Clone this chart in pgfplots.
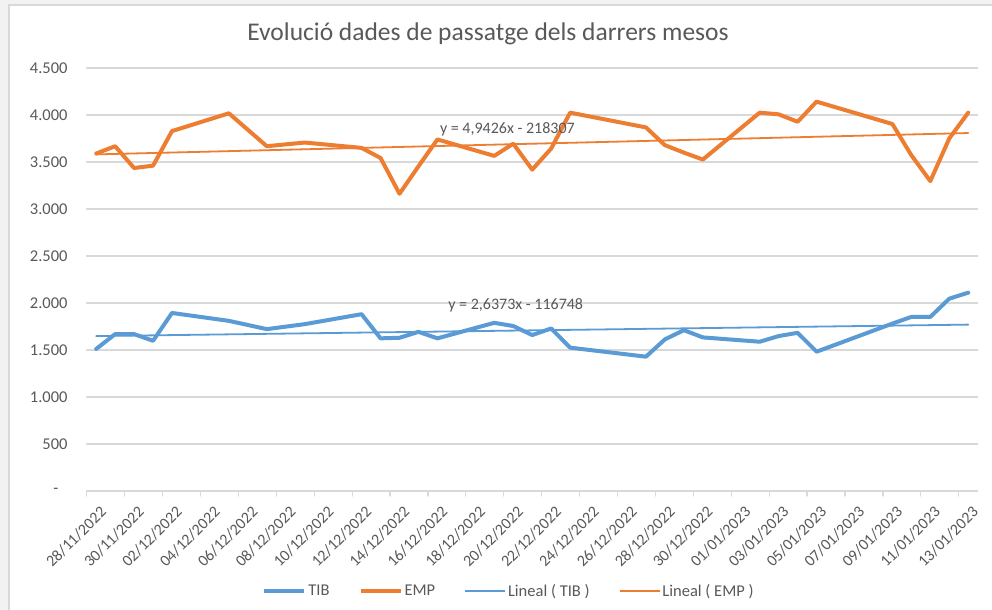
\documentclass[border=0pt]{standalone}
\usepackage{fontspec}
\setmainfont{Carlito}
\usepackage{pgfplots}
\pgfplotsset{compat=1.18}
\definecolor{tib}{HTML}{5B9BD5}
\definecolor{emp}{HTML}{ED7D31}
\definecolor{txt}{HTML}{595959}
\definecolor{grd}{HTML}{D9D9D9}
\definecolor{bgc}{HTML}{F2F2F2}
\begin{document}
\begin{tikzpicture}
\useasboundingbox (0,0) rectangle (992bp,610bp);
\fill[bgc] (0,0) rectangle (992bp,610bp);
\fill[white] (9bp,0) rectangle (992bp,605bp);
\draw[grd, line width=1.2bp] (9bp,0) -- (9bp,605bp) -- (992bp,605bp);
\node[text=txt, font=\fontsize{25.5bp}{30bp}\selectfont, anchor=base] at (488bp,569.3bp) {Evolució dades de passatge dels darrers mesos};
\begin{axis}[
  at={(86.7bp,119bp)}, anchor=south west,
  scale only axis, width=891bp, height=423bp,
  xmin=-0.5, xmax=46.5, ymin=0, ymax=4500,
  axis line style={draw=none},
  xtick={0,2,...,46},
  xticklabels={28/11/2022,30/11/2022,02/12/2022,04/12/2022,06/12/2022,08/12/2022,10/12/2022,12/12/2022,14/12/2022,16/12/2022,18/12/2022,20/12/2022,22/12/2022,24/12/2022,26/12/2022,28/12/2022,30/12/2022,01/01/2023,03/01/2023,05/01/2023,07/01/2023,09/01/2023,11/01/2023,13/01/2023},
  major tick length=0pt,
  xtick pos=bottom, ytick pos=left,
  extra x ticks={-0.5,1.5,...,45.5},
  extra x tick labels={},
  extra x tick style={major tick length=5bp, tick align=outside, major tick style={grd, line width=1.2bp}, grid=none},
  ytick={0,500,...,4500},
  yticklabels={-\hspace*{9bp},500,1.000,1.500,2.000,2.500,3.000,3.500,4.000,4.500},
  ymajorgrids, grid style={grd, line width=1.2bp},
  tick label style={text=txt},
  yticklabel style={anchor=east, inner sep=0pt, xshift=-19bp, font=\fontsize{16.5bp}{19bp}\selectfont},
  xticklabel style={xshift=3bp, rotate=45, anchor=north east, inner sep=0pt, font=\fontsize{16bp}{18bp}\selectfont},
  xticklabel shift=14bp,
  legend style={at={(0.474,-0.2364)}, anchor=center, draw=none, fill=none, legend columns=4, font=\fontsize{16.5bp}{19bp}\selectfont, text=txt, /tikz/every even column/.append style={column sep=27bp}},
  legend image code/.code={\draw[#1] (0bp,0bp) -- (40bp,0bp);},
  line join=round, line cap=round,
]
\addplot[tib, line width=4bp] coordinates {
(0,1511) (1,1669) (2,1669) (3,1598) (4,1894) (7,1810) (9,1722) (11,1775) (14,1881) (15,1624) (16,1630) (17,1693) (18,1624) (21,1789) (22,1755) (23,1659) (24,1729) (25,1525) (29,1429) (30,1613) (31,1711) (32,1634) (35,1588) (36,1648) (37,1683) (38,1482) (42,1781) (43,1852) (44,1852) (45,2046) (46,2110)};
\addlegendentry{TIB}
\addplot[emp, line width=4bp] coordinates {
(0,3590) (1,3668) (2,3436) (3,3461) (4,3829) (7,4018) (9,3668) (11,3707) (14,3650) (15,3543) (16,3162) (17,3454) (18,3740) (21,3565) (22,3695) (23,3419) (24,3643) (25,4025) (29,3868) (30,3679) (31,3600) (32,3526) (35,4025) (36,4007) (37,3928) (38,4142) (42,3904) (43,3572) (44,3297) (45,3750) (46,4025)};
\addlegendentry{EMP}
\addplot[tib, line width=1.8bp] coordinates {(0,1648) (46,1770)};
\addlegendentry{Lineal ( TIB )}
\addplot[emp, line width=1.8bp] coordinates {(0,3581) (46,3808)};
\addlegendentry{Lineal ( EMP )}
\node[text=txt, font=\fontsize{16bp}{19bp}\selectfont] at (axis cs:21.69,3847) {y = 4,9426x - 218307};
\node[text=txt, font=\fontsize{16bp}{19bp}\selectfont] at (axis cs:22.13,1976) {y = 2,6373x - 116748};
\end{axis}
\end{tikzpicture}
\end{document}
